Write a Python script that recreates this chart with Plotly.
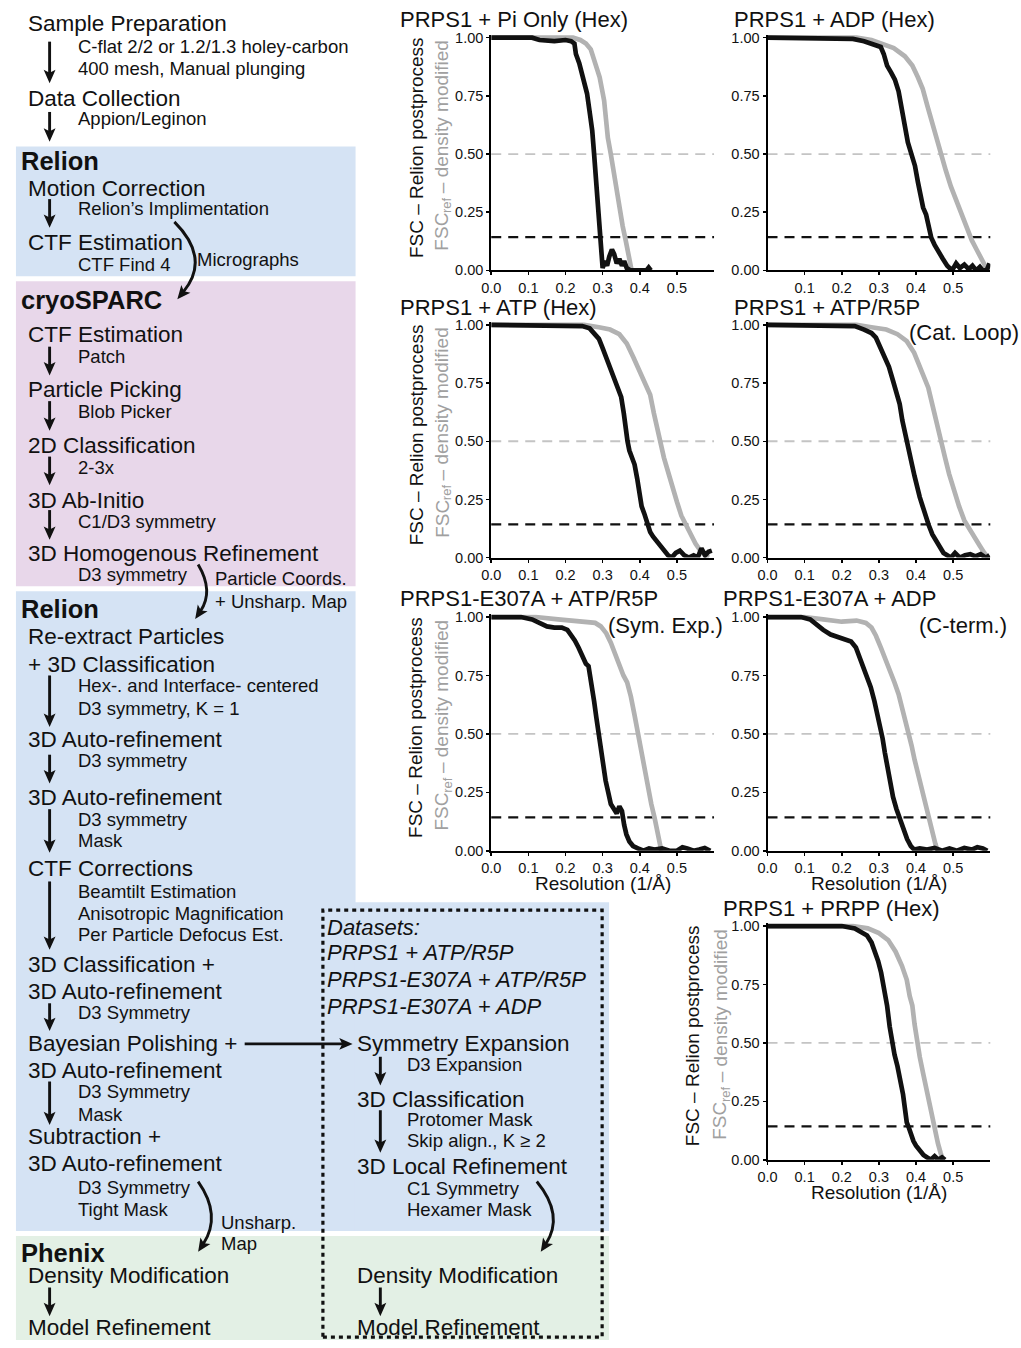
import math
import plotly.graph_objects as go

W, H = 1021, 1348
FONT = "Liberation Sans, Arial, Helvetica, sans-serif"
BLACK = "#111111"
GRAY = "#b2b2b2"
LABEL_GRAY = "#a0a0a0"

# ---------------- data ----------------
resolution_ticks = [0.0, 0.1, 0.2, 0.3, 0.4, 0.5]
resolution_ticktext = ["0.0", "0.1", "0.2", "0.3", "0.4", "0.5"]
fsc_ticks = [0.0, 0.25, 0.5, 0.75, 1.0]
fsc_ticktext = ["0.00", "0.25", "0.50", "0.75", "1.00"]
threshold_half = 0.5
threshold_gold = 0.143

panel_titles = ["PRPS1 + Pi Only (Hex)", "PRPS1 + ADP (Hex)", "PRPS1 + ATP (Hex)",
                "PRPS1 + ATP/R5P", "PRPS1-E307A + ATP/R5P", "PRPS1-E307A + ADP",
                "PRPS1 + PRPP (Hex)"]
panel_subtitles = [None, None, None, "(Cat. Loop)", "(Sym. Exp.)", "(C-term.)", None]

pi_fsc_x = [0.0, 0.11, 0.13, 0.17, 0.20, 0.215, 0.224, 0.228, 0.237, 0.246, 0.258, 0.266, 0.272, 0.277,
            0.282, 0.286, 0.289, 0.292, 0.296, 0.300, 0.306, 0.312, 0.318, 0.325, 0.331, 0.338, 0.345,
            0.352, 0.358, 0.365, 0.375, 0.40, 0.418, 0.424, 0.430]
pi_fsc_y = [1.0, 1.0, 0.99, 0.985, 0.99, 0.985, 0.975, 0.93, 0.89, 0.84, 0.76, 0.67, 0.60, 0.50,
            0.40, 0.30, 0.21, 0.14, 0.06, 0.01, 0.04, 0.02, 0.06, 0.09, 0.07, 0.03, 0.05,
            0.02, 0.04, 0.01, 0.0, 0.0, 0.0, 0.012, 0.0]
pi_ref_x = [0.0, 0.22, 0.24, 0.255, 0.268, 0.277, 0.285, 0.292, 0.298, 0.304, 0.309, 0.314, 0.322,
            0.330, 0.338, 0.346, 0.354, 0.362, 0.370, 0.378]
pi_ref_y = [1.0, 1.0, 0.99, 0.975, 0.95, 0.91, 0.87, 0.83, 0.78, 0.73, 0.65, 0.57, 0.50,
            0.42, 0.33, 0.25, 0.19, 0.13, 0.06, 0.0]

adp_fsc_x = [0.0, 0.20, 0.23, 0.26, 0.29, 0.305, 0.313, 0.322, 0.333, 0.343, 0.353, 0.362, 0.370,
             0.378, 0.388, 0.397, 0.405, 0.412, 0.419, 0.427, 0.434, 0.441, 0.450, 0.460, 0.472,
             0.484, 0.497, 0.508, 0.518, 0.530, 0.542, 0.552, 0.562, 0.572, 0.580, 0.590, 0.598]
adp_fsc_y = [1.0, 1.0, 0.995, 0.985, 0.97, 0.96, 0.93, 0.88, 0.85, 0.82, 0.77, 0.70, 0.62,
             0.55, 0.50, 0.45, 0.38, 0.31, 0.27, 0.24, 0.18, 0.14, 0.11, 0.08, 0.05,
             0.02, 0.0, 0.03, 0.01, 0.025, 0.005, 0.02, 0.0, 0.015, 0.0, 0.0, 0.03]
adp_ref_x = [0.0, 0.24, 0.28, 0.31, 0.34, 0.37, 0.39, 0.405, 0.418, 0.430, 0.442, 0.455, 0.467,
             0.480, 0.494, 0.508, 0.522, 0.536, 0.550, 0.563, 0.575, 0.586, 0.596]
adp_ref_y = [1.0, 1.0, 0.99, 0.975, 0.955, 0.92, 0.88, 0.83, 0.78, 0.71, 0.64, 0.57, 0.50,
             0.43, 0.36, 0.30, 0.24, 0.18, 0.13, 0.09, 0.05, 0.02, 0.0]

atp_fsc_x = [0.0, 0.22, 0.245, 0.265, 0.278, 0.290, 0.300, 0.310, 0.320, 0.332, 0.342, 0.350, 0.357,
             0.362, 0.367, 0.372, 0.378, 0.386, 0.393, 0.399, 0.405, 0.412, 0.420, 0.428, 0.436,
             0.446, 0.456, 0.466, 0.476, 0.486, 0.497, 0.508, 0.520, 0.532, 0.545, 0.556, 0.566,
             0.576, 0.585, 0.594]
atp_fsc_y = [1.0, 1.0, 0.995, 0.985, 0.965, 0.94, 0.90, 0.86, 0.81, 0.76, 0.72, 0.69, 0.62,
             0.55, 0.50, 0.46, 0.43, 0.40, 0.34, 0.27, 0.22, 0.19, 0.14, 0.11, 0.09,
             0.07, 0.05, 0.03, 0.01, 0.0, 0.02, 0.03, 0.01, 0.0, 0.01, 0.0, 0.04,
             0.01, 0.025, 0.03]
atp_ref_x = [0.0, 0.25, 0.29, 0.32, 0.345, 0.365, 0.383, 0.400, 0.415, 0.428, 0.438, 0.447, 0.455,
             0.465, 0.476, 0.488, 0.500, 0.512, 0.524, 0.537, 0.550, 0.563, 0.575, 0.586]
atp_ref_y = [1.0, 1.0, 0.99, 0.98, 0.96, 0.92, 0.86, 0.80, 0.75, 0.70, 0.62, 0.55, 0.50,
             0.43, 0.37, 0.30, 0.24, 0.18, 0.14, 0.10, 0.06, 0.03, 0.01, 0.0]

r5p_fsc_x = [0.0, 0.20, 0.235, 0.26, 0.28, 0.292, 0.304, 0.316, 0.327, 0.338, 0.348, 0.356, 0.363,
             0.369, 0.375, 0.382, 0.389, 0.396, 0.403, 0.410, 0.418, 0.426, 0.434, 0.444, 0.454,
             0.464, 0.474, 0.484, 0.494, 0.505, 0.518, 0.532, 0.546, 0.560, 0.574, 0.588, 0.598]
r5p_fsc_y = [1.0, 1.0, 0.995, 0.98, 0.965, 0.945, 0.90, 0.86, 0.82, 0.76, 0.71, 0.66, 0.59,
             0.54, 0.50, 0.44, 0.40, 0.35, 0.30, 0.26, 0.22, 0.17, 0.14, 0.10, 0.07,
             0.04, 0.02, 0.01, 0.0, 0.02, 0.0, 0.01, 0.015, 0.005, 0.015, 0.0, 0.01]
r5p_ref_x = [0.0, 0.24, 0.28, 0.32, 0.35, 0.375, 0.395, 0.41, 0.422, 0.433, 0.445, 0.456, 0.467,
             0.478, 0.489, 0.502, 0.516, 0.530, 0.544, 0.558, 0.572, 0.584, 0.594]
r5p_ref_y = [1.0, 1.0, 0.99, 0.98, 0.96, 0.93, 0.88, 0.82, 0.77, 0.73, 0.65, 0.57, 0.50,
             0.43, 0.36, 0.29, 0.22, 0.16, 0.12, 0.08, 0.05, 0.02, 0.0]

e307_r5p_fsc_x = [0.0, 0.08, 0.11, 0.135, 0.15, 0.17, 0.19, 0.205, 0.215, 0.225, 0.235, 0.245, 0.255,
                  0.262, 0.270, 0.277, 0.283, 0.289, 0.295, 0.301, 0.308, 0.315, 0.322, 0.330, 0.338,
                  0.345, 0.352, 0.358, 0.364, 0.372, 0.382, 0.395, 0.410, 0.425, 0.440, 0.460, 0.480,
                  0.500, 0.515, 0.528, 0.545, 0.560, 0.575, 0.590]
e307_r5p_fsc_y = [1.0, 1.0, 0.99, 0.97, 0.96, 0.955, 0.955, 0.945, 0.925, 0.90, 0.87, 0.84, 0.80,
                  0.79, 0.72, 0.64, 0.57, 0.50, 0.42, 0.35, 0.30, 0.25, 0.20, 0.18, 0.16,
                  0.19, 0.17, 0.11, 0.07, 0.04, 0.02, 0.01, 0.0, 0.01, 0.005, 0.01, 0.0,
                  0.0, 0.015, 0.01, 0.0, 0.005, 0.012, 0.0]
e307_r5p_ref_x = [0.0, 0.12, 0.18, 0.22, 0.26, 0.28, 0.295, 0.31, 0.322, 0.333, 0.345, 0.356, 0.366,
                  0.376, 0.386, 0.395, 0.404, 0.413, 0.422, 0.431, 0.440, 0.448, 0.454, 0.458]
e307_r5p_ref_y = [1.0, 1.0, 0.99, 0.985, 0.98, 0.975, 0.96, 0.93, 0.89, 0.84, 0.80, 0.75, 0.72,
                  0.66, 0.58, 0.50, 0.42, 0.34, 0.27, 0.20, 0.14, 0.08, 0.03, 0.0]

e307_adp_fsc_x = [0.0, 0.09, 0.115, 0.13, 0.15, 0.17, 0.19, 0.21, 0.225, 0.238, 0.248, 0.258, 0.268,
                  0.278, 0.288, 0.297, 0.304, 0.310, 0.316, 0.322, 0.330, 0.338, 0.347, 0.356, 0.366,
                  0.376, 0.386, 0.395, 0.410, 0.430, 0.450, 0.470, 0.490, 0.510, 0.530, 0.550, 0.565,
                  0.580, 0.592]
e307_adp_fsc_y = [1.0, 1.0, 0.99, 0.97, 0.945, 0.925, 0.915, 0.905, 0.895, 0.87, 0.83, 0.79, 0.75,
                  0.70, 0.64, 0.58, 0.53, 0.48, 0.42, 0.36, 0.29, 0.23, 0.18, 0.14, 0.09,
                  0.05, 0.02, 0.005, 0.01, 0.005, 0.012, 0.0, 0.01, 0.0, 0.012, 0.005, 0.015,
                  0.01, 0.0]
e307_adp_ref_x = [0.0, 0.10, 0.15, 0.20, 0.24, 0.265, 0.28, 0.292, 0.305, 0.318, 0.330, 0.342, 0.353,
                  0.363, 0.372, 0.380, 0.388, 0.396, 0.405, 0.415, 0.425, 0.435, 0.445, 0.452, 0.458]
e307_adp_ref_y = [1.0, 1.0, 0.99, 0.98, 0.985, 0.975, 0.955, 0.92, 0.87, 0.82, 0.77, 0.72, 0.67,
                  0.61, 0.55, 0.50, 0.45, 0.39, 0.33, 0.26, 0.20, 0.14, 0.08, 0.03, 0.0]

prpp_fsc_x = [0.0, 0.20, 0.235, 0.255, 0.268, 0.28, 0.29, 0.298, 0.306, 0.314, 0.322, 0.329, 0.335,
              0.342, 0.350, 0.358, 0.365, 0.370, 0.375, 0.380, 0.386, 0.393, 0.400, 0.410, 0.420,
              0.430, 0.440, 0.450, 0.460, 0.470, 0.478]
prpp_fsc_y = [1.0, 1.0, 0.99, 0.975, 0.96, 0.93, 0.89, 0.85, 0.80, 0.74, 0.66, 0.57, 0.51,
              0.45, 0.40, 0.34, 0.28, 0.22, 0.16, 0.14, 0.11, 0.08, 0.06, 0.04, 0.02,
              0.01, 0.0, 0.015, 0.0, 0.01, 0.0]
prpp_ref_x = [0.0, 0.23, 0.27, 0.30, 0.325, 0.345, 0.362, 0.375, 0.383, 0.390, 0.396, 0.402, 0.410,
              0.419, 0.428, 0.437, 0.445, 0.452, 0.459, 0.466, 0.472]
prpp_ref_y = [1.0, 1.0, 0.99, 0.97, 0.94, 0.89, 0.83, 0.77, 0.70, 0.66, 0.58, 0.51, 0.44,
              0.37, 0.30, 0.23, 0.17, 0.12, 0.07, 0.03, 0.0]

# ---------------- layout helpers (pixel -> paper) ----------------
def X(p):
    return p / W


def Y(p):
    return 1 - p / H


series = [
    (pi_fsc_x, pi_fsc_y, pi_ref_x, pi_ref_y),
    (adp_fsc_x, adp_fsc_y, adp_ref_x, adp_ref_y),
    (atp_fsc_x, atp_fsc_y, atp_ref_x, atp_ref_y),
    (r5p_fsc_x, r5p_fsc_y, r5p_ref_x, r5p_ref_y),
    (e307_r5p_fsc_x, e307_r5p_fsc_y, e307_r5p_ref_x, e307_r5p_ref_y),
    (e307_adp_fsc_x, e307_adp_fsc_y, e307_adp_ref_x, e307_adp_ref_y),
    (prpp_fsc_x, prpp_fsc_y, prpp_ref_x, prpp_ref_y),
]

# plot boxes in pixels: (x at 0, x at 0.6, y at 1.0, y at 0.0)
boxes = [(486, 711, 33, 268), (765, 990, 33, 268),
         (486, 711, 323, 558), (765, 990, 323, 558),
         (486, 711, 618, 854), (765, 990, 618, 854),
         (765, 990, 930, 1166)]
title_pos = [(393, 15), (730, 15), (393, 305), (730, 305), (393, 599), (719, 599), (719, 912)]
subtitle_pos = [None, None, None, (1020, 331), (721, 627), (1008, 627), None]
ylabel_pos = [(410, 436), None, (410, 436), None, (410, 436), None, (690, 717)]
show_xtitle = [False, False, False, False, True, True, True]
hide_zero_tick = [False, True, False, False, False, False, False]

fig = go.Figure()
axes = {}
shapes = []
annotations = []
YMAX = 1.012
LAB = 19  # y-title font size


def rot_label(text, x, y_bottom, size, color):
    return dict(text=text, x=X(x), y=Y(y_bottom), xref="paper", yref="paper",
                xanchor="center", yanchor="bottom", textangle=-90, showarrow=False,
                borderpad=0, font=dict(size=size, color=color, family=FONT))


for i, (fx, fy, rx, ry) in enumerate(series, start=1):
    x0, x1, ytop, ybot = boxes[i - 1]
    top = ybot - (ybot - ytop) * YMAX
    xr = "x" if i == 1 else f"x{i}"
    yr = "y" if i == 1 else f"y{i}"
    xk = "xaxis" if i == 1 else f"xaxis{i}"
    yk = "yaxis" if i == 1 else f"yaxis{i}"
    tv = resolution_ticks[1:] if hide_zero_tick[i - 1] else resolution_ticks
    tt = resolution_ticktext[1:] if hide_zero_tick[i - 1] else resolution_ticktext
    axes[xk] = dict(domain=[X(x0), X(x1)], range=[0, 0.6], anchor=yr, showline=True,
                    linecolor="black", linewidth=2, ticks="outside", ticklen=3, tickwidth=1.5,
                    tickcolor="black", tickvals=tv, ticktext=tt, showgrid=False, zeroline=False,
                    tickfont=dict(size=14.5, color=BLACK, family=FONT), fixedrange=True)
    axes[yk] = dict(domain=[Y(ybot), Y(top)], range=[0, YMAX], anchor=xr, showline=True,
                    linecolor="black", linewidth=2, ticks="outside", ticklen=3, tickwidth=1.5,
                    tickcolor="black", tickvals=fsc_ticks, ticktext=fsc_ticktext, showgrid=False,
                    zeroline=False, tickfont=dict(size=14.5, color=BLACK, family=FONT),
                    fixedrange=True)
    shapes.append(dict(type="line", xref=f"{xr} domain", yref=yr, x0=0, x1=1,
                       y0=threshold_half, y1=threshold_half, layer="below",
                       line=dict(color="#c4c4c4", width=1.8, dash="10px,7px")))
    shapes.append(dict(type="line", xref=f"{xr} domain", yref=yr, x0=0, x1=1,
                       y0=threshold_gold, y1=threshold_gold, layer="below",
                       line=dict(color=BLACK, width=2.2, dash="10px,7px")))
    fig.add_trace(go.Scatter(x=rx, y=ry, xaxis=xr, yaxis=yr, mode="lines", showlegend=False,
                             line=dict(color=GRAY, width=4.7), hoverinfo="skip"))
    fig.add_trace(go.Scatter(x=fx, y=fy, xaxis=xr, yaxis=yr, mode="lines", showlegend=False,
                             line=dict(color=BLACK, width=4.7), hoverinfo="skip"))
    tx, ty = title_pos[i - 1]
    annotations.append(dict(text=panel_titles[i - 1], x=X(tx), y=Y(ty), xref="paper",
                            yref="paper", xanchor="left", yanchor="middle", showarrow=False,
                            borderpad=0, font=dict(size=22, color=BLACK, family=FONT)))
    if subtitle_pos[i - 1]:
        sx, sy = subtitle_pos[i - 1]
        annotations.append(dict(text=panel_subtitles[i - 1], x=X(sx), y=Y(sy), xref="paper",
                                yref="paper", xanchor="right", yanchor="middle",
                                showarrow=False, borderpad=0,
                                font=dict(size=22, color=BLACK, family=FONT)))
    if ylabel_pos[i - 1]:
        bx, gx = ylabel_pos[i - 1]
        cy = (ytop + ybot) / 2 - 7
        annotations.append(dict(text="FSC – Relion postprocess", x=X(bx), y=Y(cy),
                                xref="paper", yref="paper", xanchor="center", yanchor="middle",
                                textangle=-90, showarrow=False,
                                font=dict(size=LAB, color=BLACK, family=FONT)))
        # gray label built from pieces: "FSC" + small "ref" + "– density modified"
        w_fsc = 2.0 * LAB
        w_ref = 1.167 * 13
        w_rest = 8.06 * LAB
        gap = 0.28 * LAB
        total = w_fsc + w_ref + gap + w_rest
        yb = cy + total / 2
        annotations.append(rot_label("FSC", gx, yb, LAB, LABEL_GRAY))
        annotations.append(rot_label("ref", gx + 5, yb - w_fsc, 13, LABEL_GRAY))
        annotations.append(rot_label("– density modified", gx, yb - w_fsc - w_ref - gap, LAB,
                                     LABEL_GRAY))
    if show_xtitle[i - 1]:
        annotations.append(dict(text="Resolution (1/Å)", x=X((x0 + x1) / 2), y=Y(ybot + 33),
                                xref="paper", yref="paper", xanchor="center", yanchor="middle",
                                showarrow=False, borderpad=0,
                                font=dict(size=19, color=BLACK, family=FONT)))

# ---------------- flowchart ----------------
BLUE = "#d5e3f4"
PINK = "#e8d7ea"
GREEN = "#e3f0e5"
for (ax0, ay0, ax1, ay1, col) in [(6, 143, 349, 274, BLUE), (6, 279, 349, 587, PINK),
                                  (6, 592, 349, 1238, BLUE), (348, 906, 605, 1238, BLUE),
                                  (6, 1243, 605, 1348, GREEN)]:
    shapes.append(dict(type="rect", xref="paper", yref="paper", x0=X(ax0), x1=X(ax1),
                       y0=Y(ay1), y1=Y(ay0), fillcolor=col, line=dict(width=0), layer="below"))

shapes.append(dict(type="rect", xref="paper", yref="paper", x0=X(316), x1=X(598), y0=Y(1345),
                   y1=Y(914), line=dict(color=BLACK, width=3.2, dash="4px,4px"),
                   fillcolor="rgba(0,0,0,0)"))

styles = {
    "main": dict(size=22.5, pre="", post=""),
    "sub": dict(size=18.5, pre="", post=""),
    "bold": dict(size=25.5, pre="<b>", post="</b>"),
    "ital": dict(size=22, pre="<i>", post="</i>"),
}
flow_texts = [
    ("Sample Preparation", 18, 19, "main"),
    ("C-flat 2/2 or 1.2/1.3 holey-carbon", 69, 42, "sub"),
    ("400 mesh, Manual plunging", 69, 64, "sub"),
    ("Data Collection", 18, 94, "main"),
    ("Appion/Leginon", 69, 115, "sub"),
    ("Relion", 11, 158, "bold"),
    ("Motion Correction", 18, 185, "main"),
    ("Relion’s Implimentation", 69, 205, "sub"),
    ("CTF Estimation", 18, 240, "main"),
    ("CTF Find 4", 69, 262, "sub"),
    ("Micrographs", 189, 257, "sub"),
    ("cryoSPARC", 11, 298, "bold"),
    ("CTF Estimation", 18, 333, "main"),
    ("Patch", 69, 355, "sub"),
    ("Particle Picking", 18, 388, "main"),
    ("Blob Picker", 69, 410, "sub"),
    ("2D Classification", 18, 445, "main"),
    ("2-3x", 69, 467, "sub"),
    ("3D Ab-Initio", 18, 500, "main"),
    ("C1/D3 symmetry", 69, 522, "sub"),
    ("3D Homogenous Refinement", 18, 554, "main"),
    ("D3 symmetry", 69, 575, "sub"),
    ("Particle Coords.", 207, 579, "sub"),
    ("+ Unsharp. Map", 207, 602, "sub"),
    ("Relion", 11, 610, "bold"),
    ("Re-extract Particles", 18, 638, "main"),
    ("+ 3D Classification", 18, 666, "main"),
    ("Hex-. and Interface- centered", 69, 687, "sub"),
    ("D3 symmetry, K = 1", 69, 710, "sub"),
    ("3D Auto-refinement", 18, 742, "main"),
    ("D3 symmetry", 69, 763, "sub"),
    ("3D Auto-refinement", 18, 800, "main"),
    ("D3 symmetry", 69, 822, "sub"),
    ("Mask", 69, 844, "sub"),
    ("CTF Corrections", 18, 872, "main"),
    ("Beamtilt Estimation", 69, 895, "sub"),
    ("Anisotropic Magnification", 69, 917, "sub"),
    ("Per Particle Defocus Est.", 69, 939, "sub"),
    ("3D Classification +", 18, 969, "main"),
    ("3D Auto-refinement", 18, 996, "main"),
    ("D3 Symmetry", 69, 1017, "sub"),
    ("Bayesian Polishing +", 18, 1049, "main"),
    ("3D Auto-refinement", 18, 1076, "main"),
    ("D3 Symmetry", 69, 1097, "sub"),
    ("Mask", 69, 1120, "sub"),
    ("Subtraction +", 18, 1143, "main"),
    ("3D Auto-refinement", 18, 1170, "main"),
    ("D3 Symmetry", 69, 1194, "sub"),
    ("Tight Mask", 69, 1216, "sub"),
    ("Unsharp.", 213, 1229, "sub"),
    ("Map", 213, 1251, "sub"),
    ("Phenix", 11, 1260, "bold"),
    ("Density Modification", 18, 1283, "main"),
    ("Model Refinement", 18, 1335, "main"),
    ("Datasets:", 320, 931, "ital"),
    ("PRPS1 + ATP/R5P", 320, 957, "ital"),
    ("PRPS1-E307A + ATP/R5P", 320, 984, "ital"),
    ("PRPS1-E307A + ADP", 320, 1011, "ital"),
    ("Symmetry Expansion", 350, 1049, "main"),
    ("D3 Expansion", 401, 1070, "sub"),
    ("3D Classification", 350, 1105, "main"),
    ("Protomer Mask", 401, 1125, "sub"),
    ("Skip align., K ≥ 2", 401, 1147, "sub"),
    ("3D Local Refinement", 350, 1173, "main"),
    ("C1 Symmetry", 401, 1195, "sub"),
    ("Hexamer Mask", 401, 1216, "sub"),
    ("Density Modification", 350, 1283, "main"),
    ("Model Refinement", 350, 1335, "main"),
]
for txt, tx, ty, st in flow_texts:
    s = styles[st]
    annotations.append(dict(text=s["pre"] + txt + s["post"], x=X(tx - 2), y=Y(ty), xref="paper",
                            yref="paper", xanchor="left", yanchor="middle", showarrow=False,
                            font=dict(size=s["size"], color=BLACK, family=FONT)))

HEAD_L, HEAD_W, NOTCH, SHAFT = 13.5, 12.0, 3.0, 2.9


def head_shape(ex, ey, ux, uy):
    bx, by = ex - ux * HEAD_L, ey - uy * HEAD_L
    px_, py_ = -uy, ux
    lx, ly = bx + px_ * HEAD_W / 2, by + py_ * HEAD_W / 2
    rx_, ry_ = bx - px_ * HEAD_W / 2, by - py_ * HEAD_W / 2
    nx, ny = bx + ux * NOTCH, by + uy * NOTCH
    path = (f"M {X(ex)},{Y(ey)} L {X(lx)},{Y(ly)} L {X(nx)},{Y(ny)} "
            f"L {X(rx_)},{Y(ry_)} Z")
    return dict(type="path", xref="paper", yref="paper", path=path, fillcolor=BLACK,
                line=dict(width=0))


straight_arrows = [
    (40, 37, 40, 79), (40, 108, 40, 138), (40, 196, 40, 225), (40, 345, 40, 374),
    (40, 400, 40, 430), (40, 456, 40, 485), (40, 510, 40, 540), (40, 677, 40, 729),
    (40, 757, 40, 786), (40, 812, 40, 856), (40, 885, 40, 954), (40, 1008, 40, 1036),
    (40, 1087, 40, 1131), (237, 1049, 346, 1049), (374, 1062, 374, 1091),
    (374, 1116, 374, 1159), (40, 1295, 40, 1324), (374, 1295, 374, 1324),
]
for sx, sy, ex, ey in straight_arrows:
    n = math.hypot(ex - sx, ey - sy)
    ux, uy = (ex - sx) / n, (ey - sy) / n
    stop = HEAD_L - NOTCH - 1
    shapes.append(dict(type="line", xref="paper", yref="paper", x0=X(sx), y0=Y(sy),
                       x1=X(ex - ux * stop), y1=Y(ey - uy * stop),
                       line=dict(color=BLACK, width=SHAFT)))
    shapes.append(head_shape(ex, ey, ux, uy))

curved_arrows = [
    ((166, 219), (203, 256), (169, 297)),
    ((190, 565), (206, 592), (187, 620)),
    ((190, 1188), (214, 1222), (190, 1259)),
    ((532, 1188), (560, 1222), (536, 1259)),
]
for (sx, sy), (cx, cy), (ex, ey) in curved_arrows:
    dx, dy = ex - cx, ey - cy
    n = math.hypot(dx, dy)
    ux, uy = dx / n, dy / n
    stop = HEAD_L - NOTCH - 1
    pex, pey = ex - ux * stop, ey - uy * stop
    path = f"M {X(sx)},{Y(sy)} Q {X(cx)},{Y(cy)} {X(pex)},{Y(pey)}"
    shapes.append(dict(type="path", xref="paper", yref="paper", path=path,
                       line=dict(color=BLACK, width=SHAFT)))
    shapes.append(head_shape(ex, ey, ux, uy))

fig.update_layout(
    width=W, height=H, margin=dict(l=0, r=0, t=0, b=0),
    paper_bgcolor="white", plot_bgcolor="rgba(0,0,0,0)",
    showlegend=False, shapes=shapes, annotations=annotations,
    font=dict(family=FONT, color=BLACK),
    **axes,
)
fig.write_html(
    "out.html",
    config={"displayModeBar": False, "staticPlot": True},
    post_script="document.body.style.margin='0px';document.documentElement.style.overflow='hidden';",
)
